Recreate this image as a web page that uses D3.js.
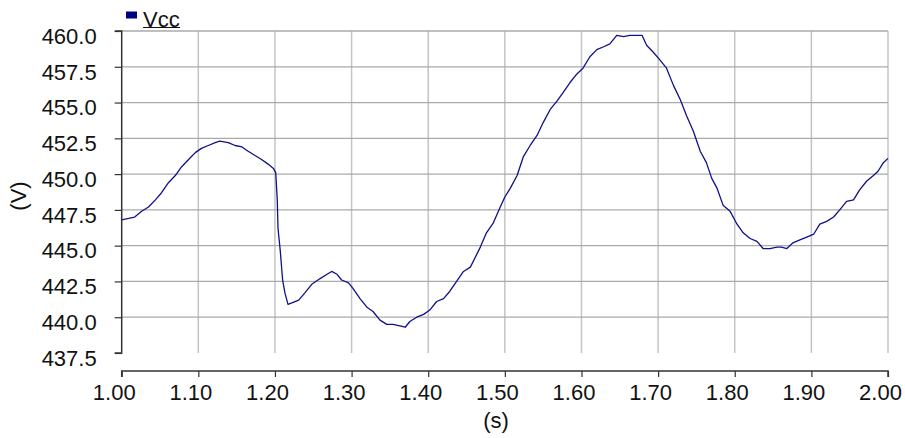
<!DOCTYPE html>
<html><head><meta charset="utf-8">
<script src="https://cdn.jsdelivr.net/npm/d3@7"></script>
<style>
html,body{margin:0;padding:0;background:#fff;}
svg{display:block;font-family:"Liberation Sans",Arial,sans-serif;}
</style></head>
<body><svg id="c" width="905" height="438"></svg>
<script>
const seriesName = "Vcc";
const xTicks = [1.0,1.1,1.2,1.3,1.4,1.5,1.6,1.7,1.8,1.9,2.0];
const yTicks = [437.5,440,442.5,445,447.5,450,452.5,455,457.5,460];
const xLabel = "(s)";
const yLabel = "(V)";
const times = [
1.000,1.009,1.017,1.026,1.035,1.044,1.052,1.061,1.070,1.078,1.087,1.096,1.104,1.113,1.122,1.128,
1.139,1.148,1.157,1.165,1.174,1.183,1.191,1.198,1.201,1.203,1.204,1.207,1.210,1.213,1.217,1.222,
1.231,1.239,1.248,1.259,1.268,1.274,1.281,1.287,1.296,1.302,1.311,1.320,1.328,1.337,1.346,1.354,
1.363,1.370,1.376,1.385,1.394,1.402,1.411,1.420,1.428,1.437,1.446,1.455,1.468,1.476,1.485,1.494,
1.500,1.507,1.516,1.524,1.533,1.542,1.550,1.559,1.568,1.576,1.585,1.594,1.602,1.611,1.620,1.629,
1.637,1.646,1.655,1.663,1.672,1.679,1.685,1.694,1.702,1.711,1.720,1.729,1.737,1.746,1.755,1.763,
1.770,1.777,1.785,1.794,1.803,1.811,1.820,1.829,1.837,1.846,1.855,1.861,1.868,1.876,1.885,1.894,
1.903,1.911,1.920,1.929,1.937,1.946,1.955,1.963,1.972,1.981,1.987,1.994,2.000];
const vcc = [
446.8,446.9,447.0,447.4,447.7,448.2,448.7,449.4,449.9,450.5,451.0,451.5,451.8,452.0,452.2,452.3,
452.2,452.0,451.9,451.6,451.3,451.0,450.7,450.4,450.1,448.2,446.2,444.6,442.6,441.7,440.9,441.0,
441.2,441.7,442.3,442.7,443.0,443.2,443.0,442.6,442.4,442.0,441.3,440.7,440.4,439.8,439.5,439.5,
439.4,439.3,439.7,440.0,440.2,440.5,441.1,441.3,441.8,442.5,443.2,443.5,444.9,445.9,446.6,447.7,
448.4,449.0,449.9,451.2,452.0,452.7,453.6,454.5,455.1,455.7,456.4,457.0,457.4,458.2,458.7,458.9,
459.1,459.7,459.6,459.7,459.7,459.7,459.0,458.5,458.0,457.4,456.2,455.2,454.1,453.0,451.6,450.8,
449.7,449.0,447.8,447.4,446.5,445.9,445.5,445.3,444.8,444.8,444.9,444.9,444.8,445.2,445.4,445.6,
445.8,446.5,446.7,447.0,447.5,448.1,448.2,448.9,449.5,449.9,450.2,450.8,451.1];

const data = times.map((t,i)=>({t, v:vcc[i]}));
const svg = d3.select("#c");
const L = 121.7, R = 888, T = 31, B = 353, XA = 371;
const x = d3.scaleLinear().domain([1,2]).range([L,R]);
const y = d3.scaleLinear().domain([437.5,460]).range([B,T]);

// grid
svg.append("g").selectAll("line").data(xTicks.slice(1)).join("line")
  .attr("x1",d=>x(d)).attr("x2",d=>x(d)).attr("y1",T).attr("y2",B)
  .attr("stroke","#c4c4c4").attr("stroke-width",1.5);
svg.append("g").selectAll("line").data(yTicks.slice(1)).join("line")
  .attr("x1",L).attr("x2",R).attr("y1",d=>y(d)).attr("y2",d=>y(d))
  .attr("stroke","#aaaaaa").attr("stroke-width",1.3);

// y axis
const yAxis = d3.axisLeft(y).tickValues(yTicks).tickFormat(d3.format(".1f")).tickSize(7).tickPadding(18);
const gy = svg.append("g").attr("transform",`translate(${L},0)`).call(yAxis);
gy.select(".domain").attr("stroke","#333").attr("stroke-width",1.5).attr("d",`M-7,${T}H0V${B}H-7`);
gy.selectAll(".tick line").attr("stroke","#333").attr("stroke-width",1.2);
gy.selectAll(".tick text").attr("font-size",22).attr("fill","#111").attr("font-family","Liberation Sans, Arial, sans-serif").attr("dy","0.56em");

// x axis
const xAxis = d3.axisBottom(x).tickValues(xTicks).tickFormat(d3.format(".2f")).tickSize(6).tickPadding(7);
const gx = svg.append("g").attr("transform",`translate(0,${XA})`).call(xAxis);
gx.select(".domain").attr("stroke","#333").attr("stroke-width",1.5).attr("d",`M${L},6V0H${R}V6`);
gx.selectAll(".tick line").attr("stroke","#333").attr("stroke-width",1.2);
gx.selectAll(".tick text").attr("font-size",22).attr("fill","#111").attr("font-family","Liberation Sans, Arial, sans-serif").attr("dx",-8);

// line
const line = d3.line().x(d=>x(d.t)).y(d=>y(d.v));
svg.append("path").datum(data).attr("d",line).attr("fill","none")
  .attr("stroke","#10108a").attr("stroke-width",1.3).attr("stroke-linejoin","round");

// axis labels
svg.append("text").attr("x",496).attr("y",428).attr("text-anchor","middle")
  .attr("font-size",22).attr("fill","#111").text(xLabel);
svg.append("text").attr("transform","translate(26,196) rotate(-90)").attr("text-anchor","middle")
  .attr("font-size",22).attr("fill","#111").text(yLabel);

// legend
svg.append("rect").attr("x",126).attr("y",11.5).attr("width",11).attr("height",7).attr("fill","#000080");
svg.append("text").attr("x",143).attr("y",27).attr("font-size",22).attr("fill","#111").text(seriesName);
svg.append("line").attr("x1",143).attr("x2",180).attr("y1",27.5).attr("y2",27.5).attr("stroke","#111").attr("stroke-width",1.2);
</script></body></html>
